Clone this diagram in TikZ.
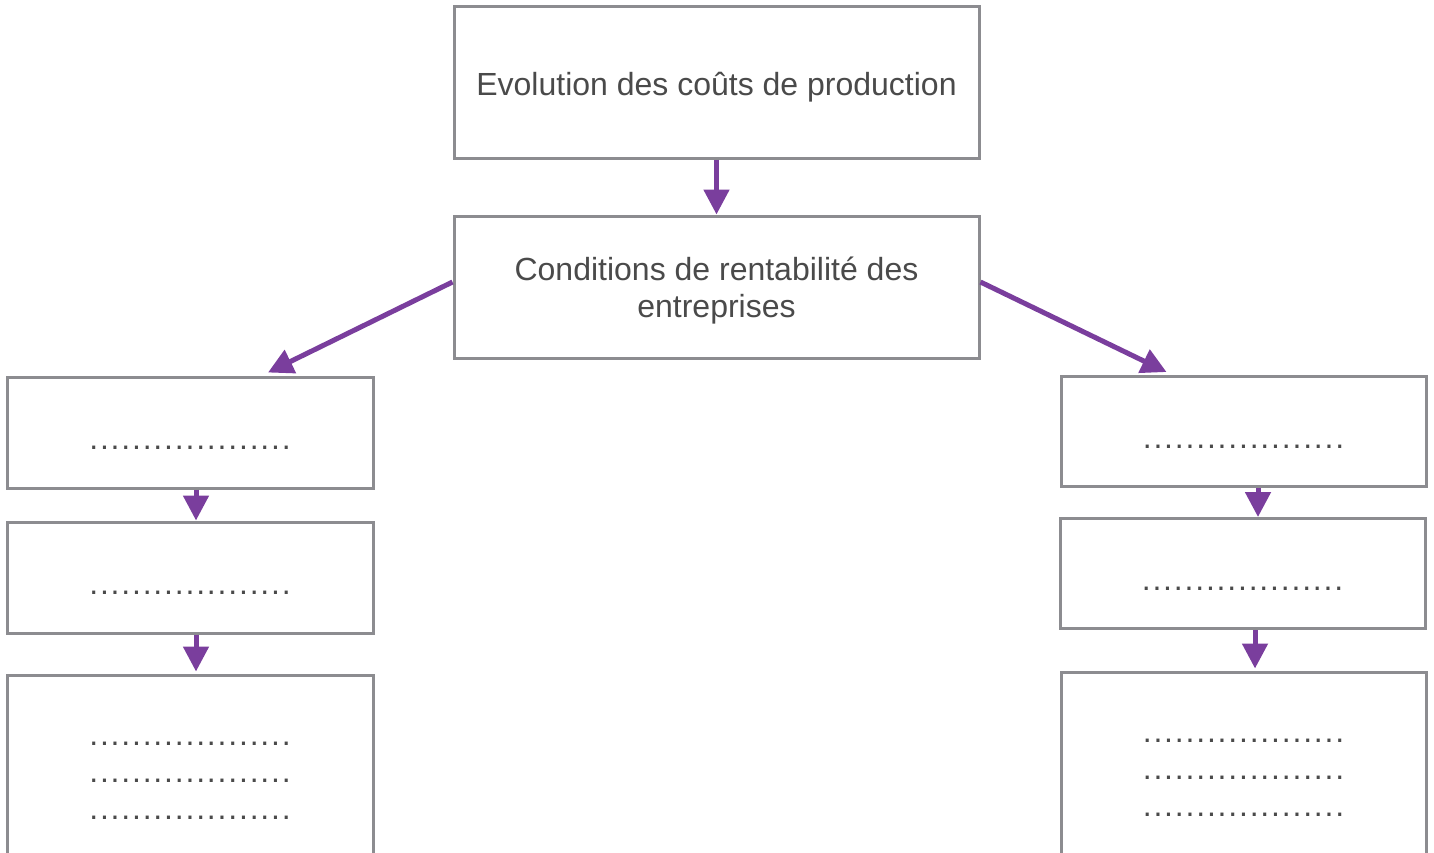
\documentclass[tikz,border=0pt]{standalone}
\usepackage{fontspec}
\setmainfont{Liberation Sans}
\usetikzlibrary{arrows.meta}
\definecolor{boxgray}{HTML}{8C8C90}
\definecolor{arrowpurple}{HTML}{7A3E9D}
\definecolor{textgray}{HTML}{4A4A4A}
% one row of 19 spaced dots, left blank to be filled in
\newcommand\dotunit{.\kern1.8pt}
\newcommand\dotline{\dotunit\dotunit\dotunit\dotunit\dotunit\dotunit\dotunit\dotunit\dotunit\dotunit\dotunit\dotunit\dotunit\dotunit\dotunit\dotunit\dotunit\dotunit.}
% centred stack of lines, lowered by #1 without changing its extents
\newcommand\lines[2]{\raisebox{#1}[\height][\depth]{\begin{tabular}{@{}c@{}}#2\end{tabular}}}
\begin{document}
\begin{tikzpicture}[x=1pt,y=-1pt,
  box/.style={draw=boxgray,line width=3pt,fill=white,inner sep=0pt,
    text=textgray,font=\fontsize{32}{37}\selectfont},
  blank/.style={box,text height=34pt,text depth=0pt},
  link/.style={draw=arrowpurple,line width=5pt,
    -{Triangle[length=25pt,width=25pt]}}]
\useasboundingbox (0,0) rectangle (1434,852);
\clip (0,0) rectangle (1434,852);

% centre column
\node[box,text height=34pt,text depth=7pt,minimum width=525pt,minimum height=152pt]
  (cost) at (716.5,82) {Evolution des coûts de production};
\node[box,minimum width=525pt,minimum height=142pt] (cond) at (716.5,287)
  {\lines{-4.5pt}{Conditions de rentabilité des\\entreprises}};

% left column
\node[blank,minimum width=366pt,minimum height=111pt] (l1) at (190,432.5) {\dotline};
\node[blank,minimum width=366pt,minimum height=111pt] (l2) at (190,577.5) {\dotline};
\node[box,minimum width=366pt,minimum height=200pt] (l3) at (190,775)
  {\lines{0pt}{\dotline\\\dotline\\\dotline}};

% right column
\node[blank,minimum width=365pt,minimum height=110pt] (r1) at (1243.5,431.5) {\dotline};
\node[blank,minimum width=365pt,minimum height=110pt] (r2) at (1242.5,573.5) {\dotline};
\node[box,minimum width=365pt,minimum height=200pt] (r3) at (1243.5,772)
  {\lines{0pt}{\dotline\\\dotline\\\dotline}};

% connectors
\draw[link] (cost.south) -- (cond.north);
\draw[link] ([yshift=5pt]cond.west) -- ([xshift=78pt,yshift=3pt]l1.north);
\draw[link] ([yshift=5pt]cond.east) -- ([xshift=-77pt,yshift=3pt]r1.north);
\draw[link] ([xshift=6pt]l1.south) -- ([xshift=6pt]l2.north);
\draw[link] ([xshift=6pt]l2.south) -- ([xshift=6pt,yshift=2pt]l3.north);
\draw[link] ([xshift=14.5pt]r1.south) -- ([xshift=15.5pt]r2.north);
\draw[link] ([xshift=12.5pt]r2.south) -- ([xshift=11.5pt,yshift=2pt]r3.north);
\end{tikzpicture}
\end{document}
